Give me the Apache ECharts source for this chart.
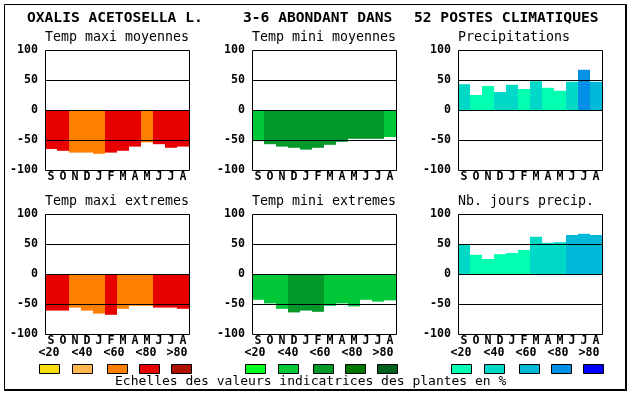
<!DOCTYPE html>
<html><head><meta charset="utf-8">
<script src="https://cdn.jsdelivr.net/npm/echarts@6/dist/echarts.min.js"></script>
<style>html,body{margin:0;padding:0;background:#fff}#c{width:630px;height:394px}</style>
</head><body><div id="c"></div>
<script>
// ---- data ----
const months = ['S','O','N','D','J','F','M','A','M','J','J','A'];
const heading = ['OXALIS ACETOSELLA L.', '3-6 ABONDANT DANS', '52 POSTES CLIMATIQUES'];
const panelTitles = ['Temp maxi moyennes','Temp mini moyennes','Precipitations',
                     'Temp maxi extremes','Temp mini extremes','Nb. jours precip.'];
const classLabels = ['<20','<40','<60','<80','>80'];
const footer = 'Echelles des valeurs indicatrices des plantes en %';
const yMin = -100, yMax = 100, yStep = 50;
const refLines = [50, 0, -50];

const tmaxMoy    = [-65,-68,-71,-71,-73,-71,-68,-61,-54,-57,-63,-61];
const tmaxMoyCls = [3,3,2,2,2,3,3,3,2,3,3,3];
const tminMoy    = [-52,-57,-61,-63,-66,-63,-58,-53,-48,-48,-48,-45];
const tminMoyCls = [1,2,2,2,2,2,2,2,2,2,2,1];
const precip     = [43,25,40,30,42,35,48,37,32,47,67,47];
const precipCls  = [1,0,0,1,1,0,1,0,0,1,3,2];
const tmaxExt    = [-61,-61,-56,-61,-66,-68,-58,-53,-53,-56,-56,-58];
const tmaxExtCls = [3,3,2,2,2,3,2,2,2,3,3,3];
const tminExt    = [-43,-49,-58,-64,-61,-63,-53,-49,-54,-43,-46,-44];
const tminExtCls = [1,1,1,2,2,2,1,1,1,1,1,1];
const nbJours    = [49,32,25,33,35,40,62,52,53,65,67,65];
const nbJoursCls = [1,0,0,0,0,0,1,1,1,2,2,2];

// ---- styles ----
const warm  = ['#f8e010','#ffb850','#ff8000','#e80000','#b01000'];
const green = ['#00ff20','#00c838','#009828','#007800','#006020'];
const blue  = ['#00ffb0','#00d8c8','#00b8d8','#0090e8','#0000ff'];
const FONT = "'DejaVu Sans Mono', 'Liberation Mono', monospace";

const colLeft = [45, 252, 458];
const rowTop = [50, 214];
const PW = 144, PH = 120;

const panels = [
  {v: tmaxMoy, c: tmaxMoyCls, p: warm},
  {v: tminMoy, c: tminMoyCls, p: green},
  {v: precip,  c: precipCls,  p: blue},
  {v: tmaxExt, c: tmaxExtCls, p: warm},
  {v: tminExt, c: tminExtCls, p: green},
  {v: nbJours, c: nbJoursCls, p: blue}
];

const grids = [], xAxes = [], yAxes = [], series = [], graphic = [];
panels.forEach((pn, i) => {
  const left = colLeft[i % 3], top = rowTop[Math.floor(i / 3)];
  grids.push({left: left, top: top, width: PW, height: PH, containLabel: false});
  xAxes.push({type: 'category', gridIndex: i, data: months,
    axisTick: {show: false}, axisLine: {show: false}, splitLine: {show: false},
    axisLabel: {interval: 0, margin: 1, color: '#000', fontFamily: FONT, fontWeight: 'bold', fontSize: 11.6}});
  yAxes.push({type: 'value', gridIndex: i, min: yMin, max: yMax, interval: yStep,
    axisTick: {show: false}, axisLine: {show: false}, splitLine: {show: false},
    axisLabel: {margin: 7, color: '#000', fontFamily: FONT, fontWeight: 'bold', fontSize: 11.6}});
  series.push({type: 'bar', xAxisIndex: i, yAxisIndex: i, barCategoryGap: '0%',
    data: pn.v.map((val, k) => ({value: val, itemStyle: {color: pn.p[pn.c[k]]}})),
    markLine: {silent: true, symbol: ['none','none'], label: {show: false},
      lineStyle: {color: '#000', width: 1, type: 'solid'},
      emphasis: {disabled: true},
      data: refLines.map(y => ({yAxis: y}))}
  });
  // frame
  graphic.push({type: 'rect', z: 100, shape: {x: left + 0.5, y: top + 0.5, width: PW, height: PH},
    style: {fill: null, stroke: '#000', lineWidth: 1}});
  // panel title
  graphic.push({type: 'text', z: 100, x: left, y: top - 12,
    style: {text: panelTitles[i], font: '13.3px ' + FONT, fill: '#000', align: 'left', verticalAlign: 'middle'}});
});

// heading
const headX = [27, 243, 414];
heading.forEach((t, k) => graphic.push({type: 'text', z: 100, x: headX[k], y: 18,
  style: {text: t, font: 'bold 14.6px ' + FONT, fill: '#000', align: 'left', verticalAlign: 'middle'}}));

// legends
const legBase = [39, 245, 451];
const swOff = [0, 32.5, 68, 100, 132];
const lbOff = [10, 43, 75, 107, 138];
const pals = [warm, green, blue];
legBase.forEach((b, col) => {
  classLabels.forEach((lab, k) => {
    graphic.push({type: 'text', z: 100, x: b + lbOff[k], y: 353,
      style: {text: lab, font: 'bold 11.6px ' + FONT, fill: '#000', align: 'center', verticalAlign: 'middle'}});
    graphic.push({type: 'rect', z: 100, shape: {x: Math.round(b + swOff[k]) + 0.5, y: 364.5, width: 20, height: 9},
      style: {fill: pals[col][k], stroke: '#000', lineWidth: 1}});
  });
});
graphic.push({type: 'text', z: 100, x: 115, y: 382,
  style: {text: footer, font: '13px ' + FONT, fill: '#000', align: 'left', verticalAlign: 'middle'}});

// outer frame
graphic.push({type: 'rect', z: 100, shape: {x: 4.5, y: 4.5, width: 621, height: 385},
  style: {fill: null, stroke: '#000', lineWidth: 1}});
graphic.push({type: 'line', z: 100, shape: {x1: 626.5, y1: 4, x2: 626.5, y2: 391}, style: {stroke: '#000', lineWidth: 1}});
graphic.push({type: 'line', z: 100, shape: {x1: 4, y1: 390.5, x2: 627, y2: 390.5}, style: {stroke: '#000', lineWidth: 1}});

const chart = echarts.init(document.getElementById('c'), null, {renderer: 'canvas'});
chart.setOption({
  animation: false,
  backgroundColor: '#fff',
  grid: grids, xAxis: xAxes, yAxis: yAxes, series: series, graphic: graphic
});
</script></body></html>
